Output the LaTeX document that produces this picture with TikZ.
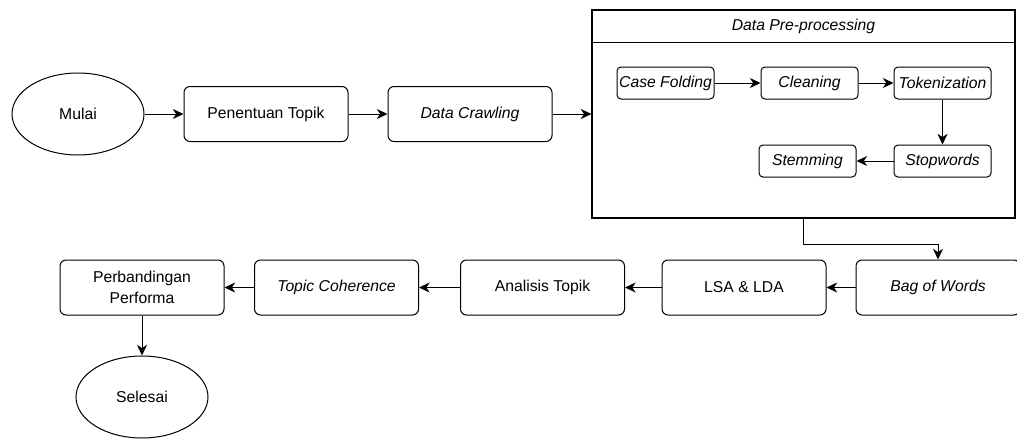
\documentclass[tikz,border=0pt]{standalone}
\usepackage{fontspec}
\setmainfont{Liberation Sans}
\usetikzlibrary{arrows.meta,shapes.geometric}

\tikzset{every picture/.style={line width=0.75pt},
  proc/.style={draw, rounded corners=4.5pt, minimum width=123pt, minimum height=41.25pt, inner sep=1pt, align=center, font=\fontsize{11.8}{16}\selectfont},
  subproc/.style={draw, rounded corners=3pt, minimum width=72.75pt, minimum height=24pt, inner sep=0.5pt, font=\fontsize{11.8}{14}\selectfont\itshape},
  term/.style={draw, ellipse, minimum width=99pt, minimum height=61.5pt, inner sep=0pt, font=\fontsize{11.8}{14}\selectfont},
  flow/.style={-{Stealth[length=8pt,width=7.5pt,inset=2.5pt]}, line width=0.7pt}
}

\begin{document}
\begin{tikzpicture}[x=0.75pt,y=0.75pt,yscale=-1,xscale=1]
\useasboundingbox (0,0) rectangle (1017,439);

% Terminators
\node [term] (mulai) at (78,114) {Mulai};
\node [term] (selesai) at (142,397) {Selesai};

% Top row
\node [proc] (topik) at (266,114) {Penentuan Topik};
\node [proc] (crawl) at (470,114) {\itshape Data Crawling};

% Pre-processing container
\node [draw, line width=0.9pt, minimum width=317.25pt, minimum height=156pt, inner sep=0pt] (prep) at (803.5,114) {};
\coordinate (hdr) at (803.5,42);
\draw (prep.west |- hdr) -- (prep.east |- hdr);
\node [font=\fontsize{11.8}{14}\selectfont\itshape] (preptitle) at (803.5,26) {Data Pre-processing};

% Pre-processing steps
\node [subproc] (casefold) at (665.5,83) {Case Folding};
\node [subproc] (cleaning) at (809.5,83) {Cleaning};
\node [subproc] (tokenize) at (942.5,83) {Tokenization};
\node [subproc] (stopword) at (942.5,161) {Stopwords};
\node [subproc] (stemming) at (807.5,161) {Stemming};

% Bottom row
\node [proc] (bow) at (938,287.5) {\itshape Bag of Words};
\node [proc] (lsalda) at (744,287.5) {LSA \& LDA};
\node [proc] (analisis) at (542.5,287.5) {Analisis Topik};
\node [proc] (coher) at (336.5,287.5) {\itshape Topic Coherence};
\node [proc] (perf) at (142,287.5) {Perbandingan\\Performa};

% Connectors
\draw [flow] (mulai) -- (topik);
\draw [flow] (topik) -- (crawl);
\draw [flow] (crawl) -- (prep);
\draw [flow] (casefold) -- (cleaning);
\draw [flow] (cleaning) -- (tokenize);
\draw [flow] (tokenize) -- (stopword);
\draw [flow] (stopword) -- (stemming);
\coordinate (bend) at (803.5,244);
\draw [flow] (prep.south) -- (bend) -| (bow.north);
\draw [flow] (bow) -- (lsalda);
\draw [flow] (lsalda) -- (analisis);
\draw [flow] (analisis) -- (coher);
\draw [flow] (coher) -- (perf);
\draw [flow] (perf) -- (selesai);

\end{tikzpicture}
\end{document}
